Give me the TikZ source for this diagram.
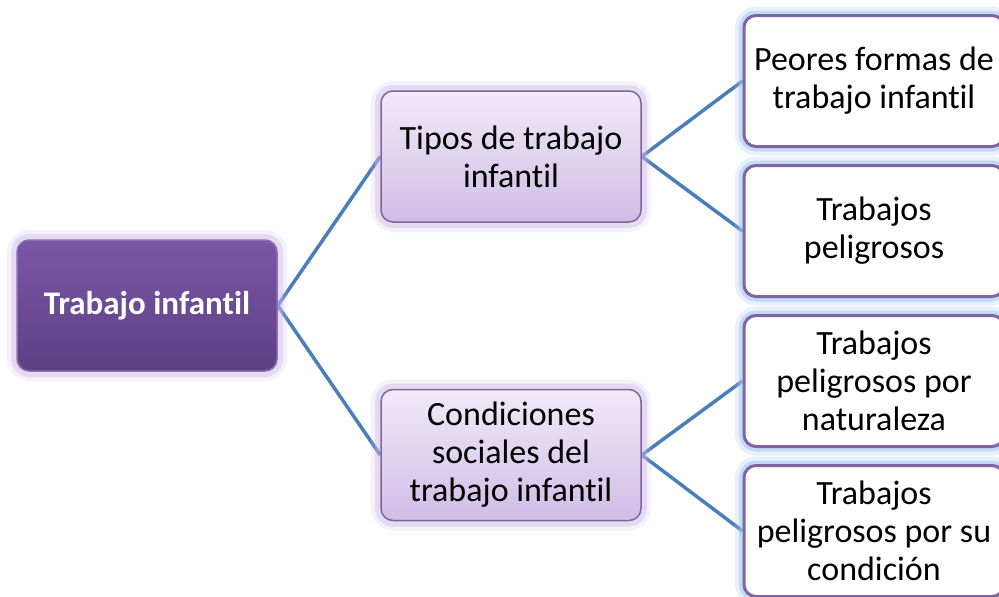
\documentclass[tikz,border=0pt]{standalone}
\usepackage{fontspec}
\setmainfont{Carlito}[Ligatures=NoCommon]
\usetikzlibrary{backgrounds}
\definecolor{linkblue}{HTML}{4A7DBA}
\definecolor{boxborder}{HTML}{8064A2}
\definecolor{rootborder}{HTML}{8C70B2}
\definecolor{roottop}{HTML}{7B57A5}
\definecolor{rootbot}{HTML}{5D3F84}
\definecolor{midtop}{HTML}{F1EAF8}
\definecolor{midbot}{HTML}{D0BDE6}
\definecolor{lavglow}{HTML}{CDB8E6}
\definecolor{blueglow}{HTML}{9EC4EE}
\tikzset{
  basebox/.style={rounded corners=12pt, minimum width=260pt, minimum height=131pt, align=center, inner sep=0pt},
  lavhalo/.style={preaction={draw=lavglow, line width=20pt, opacity=.2},
                  preaction={draw=lavglow, line width=12pt, opacity=.4}},
  bluehalo/.style={preaction={draw=blueglow, line width=18pt, opacity=.25},
                   preaction={draw=blueglow, line width=10pt, opacity=.5}},
  rootbox/.style={basebox, lavhalo, draw=rootborder, line width=1.5pt, top color=roottop, bottom color=rootbot,
                  text=white, font=\fontsize{33}{40}\selectfont\bfseries},
  midbox/.style={basebox, lavhalo, draw=boxborder, line width=1.5pt, top color=midtop, bottom color=midbot,
                 font=\fontsize{34}{38}\selectfont},
  leafbox/.style={basebox, bluehalo, draw=boxborder, line width=3pt, fill=white,
                  font=\fontsize{34}{38}\selectfont},
  link/.style={draw=linkblue, line width=3.5pt}
}
\begin{document}
\begin{tikzpicture}[x=1pt,y=-1pt]
\useasboundingbox (0,0) rectangle (999,597);
\node[rootbox] (root) at (147,305.5) {Trabajo infantil};
\node[midbox] (tipos) at (511,156.5) {Tipos de trabajo\\infantil};
\node[midbox] (cond) at (511,455) {Condiciones\\sociales del\\trabajo infantil};
\node[leafbox] (peores) at (874,81) {Peores formas de\\trabajo infantil};
\node[leafbox] (pelig) at (874,231) {Trabajos\\peligrosos};
\node[leafbox] (natur) at (874,381) {Trabajos\\peligrosos por\\naturaleza};
\node[leafbox] (condic) at (874,531) {Trabajos\\peligrosos por su\\condición};
\begin{pgfonlayer}{background}
\draw[link] (root.east) -- (tipos.west);
\draw[link] (root.east) -- (cond.west);
\draw[link] (tipos.east) -- (peores.west);
\draw[link] (tipos.east) -- (pelig.west);
\draw[link] (cond.east) -- (natur.west);
\draw[link] (cond.east) -- (condic.west);
\end{pgfonlayer}
\end{tikzpicture}
\end{document}
